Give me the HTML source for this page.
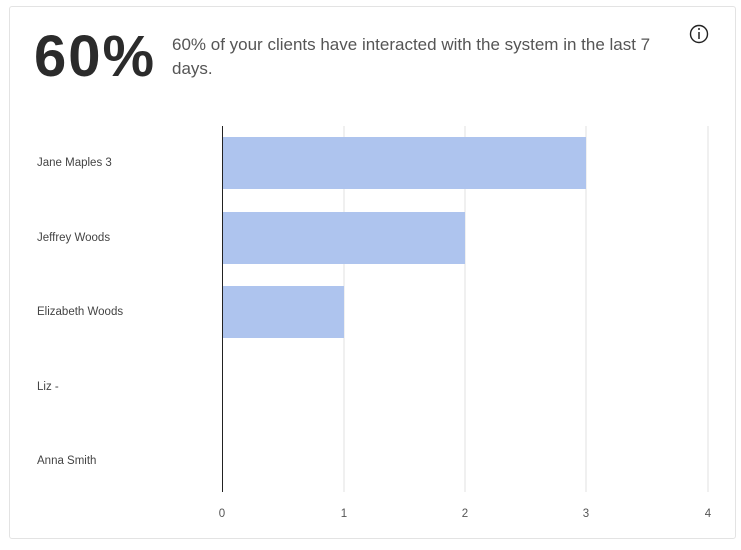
<!DOCTYPE html>
<html><head><style>
body{margin:0;background:#fff;font-family:"Liberation Sans",sans-serif;}
.card{position:absolute;left:9px;top:6px;width:727px;height:533px;border:1px solid #e3e3e3;border-radius:3px;box-sizing:border-box;}
</style></head><body>
<div class="card"></div>
<div style="position:absolute;left:34px;top:22px;font-size:58px;font-weight:bold;color:#2b2b2b;letter-spacing:2px;line-height:70px">60%</div>
<div style="position:absolute;left:172px;top:33px;width:500px;font-size:17px;color:#555;line-height:24px">60% of your clients have interacted with the system in the last 7 days.</div>
<svg style="position:absolute;left:0;top:0" width="741" height="550">
<circle cx="699" cy="34" r="8.5" fill="none" stroke="#222" stroke-width="1.4"/>
<line x1="699" y1="32" x2="699" y2="39" stroke="#222" stroke-width="1.5"/>
<circle cx="699" cy="29" r="1" fill="#222"/>
<g stroke="#e2e2e2" stroke-width="1">
<line x1="344" y1="126" x2="344" y2="492"/><line x1="465" y1="126" x2="465" y2="492"/>
<line x1="586" y1="126" x2="586" y2="492"/><line x1="708" y1="126" x2="708" y2="492"/>
</g>
<g fill="#aec4ee">
<rect x="222" y="137" width="364" height="52"/>
<rect x="222" y="212" width="243" height="52"/>
<rect x="222" y="286" width="122" height="52"/>
</g>
<line x1="222.5" y1="126" x2="222.5" y2="492" stroke="#222" stroke-width="1"/>
<g font-size="11.5" fill="#444" font-family="Liberation Sans,sans-serif">
<text x="37" y="166">Jane Maples 3</text>
<text x="37" y="241">Jeffrey Woods</text>
<text x="37" y="315">Elizabeth Woods</text>
<text x="37" y="390">Liz -</text>
<text x="37" y="464">Anna Smith</text>
</g>
<g font-size="11.5" fill="#555" text-anchor="middle" font-family="Liberation Sans,sans-serif">
<text x="222" y="517">0</text><text x="344" y="517">1</text><text x="465" y="517">2</text><text x="586" y="517">3</text><text x="708" y="517">4</text>
</g>
</svg>
</body></html>
